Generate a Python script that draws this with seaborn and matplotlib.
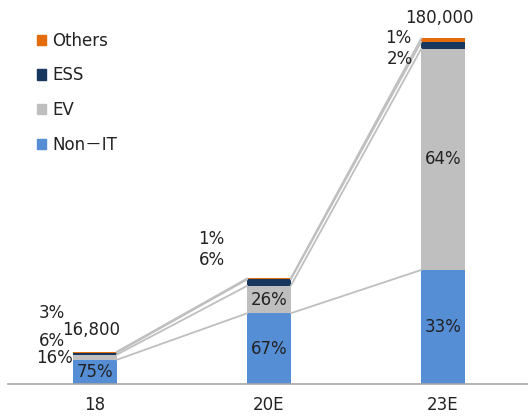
import numpy as np
import pandas as pd
import seaborn as sns
import matplotlib.pyplot as plt
from matplotlib.patches import Patch

years = ["18", "20E", "23E"]
totals = [16800, 55000, 180000]
non_it = [75, 67, 33]
ev = [16, 26, 64]
ess = [6, 6, 2]
others = [3, 1, 1]

series = ["Non－IT", "EV", "ESS", "Others"]
colors = ["#558ED5", "#BFBFBF", "#17375E", "#E46C0A"]

sns.set_style("white")
plt.rcParams["font.family"] = ["DejaVu Sans", "Noto Sans CJK KR"]

pct = np.array([non_it, ev, ess, others], dtype=float)
vals = pct / 100 * np.array(totals)
cum = np.cumsum(vals, axis=0)

fig = plt.figure(figsize=(5.28, 4.18), dpi=100)
ax = fig.add_axes([8 / 528, 34 / 418, 522 / 528, 384 / 418])

w = 0.25
# draw cumulative levels from the top down so each layer covers the one behind
for k in range(3, -1, -1):
    df = pd.DataFrame({"year": years, "value": cum[k]})
    sns.barplot(data=df, x="year", y="value", order=years, color=colors[k],
                width=w, saturation=1, ax=ax, errorbar=None, linewidth=0)

# connecting lines between bars
for i in range(len(years) - 1):
    for k in range(4):
        ax.plot([i + w / 2, i + 1 - w / 2], [cum[k][i], cum[k][i + 1]],
                color="#BFBFBF", lw=1.3, zorder=1)

fs = 12
tc = "#222222"
# labels inside the big segments
for i in range(len(years)):
    for k in range(2):
        if pct[k][i] >= 20 or (k == 0):
            mid = cum[k][i] - vals[k][i] / 2
            ax.text(i, mid, f"{int(pct[k][i])}%", ha="center", va="center",
                    fontsize=fs, color=tc)

# outside labels
ax.text(-0.25, 37000, "3%", ha="center", va="center", fontsize=fs, color=tc)
ax.text(-0.25, 22400, "6%", ha="center", va="center", fontsize=fs, color=tc)
ax.text(-0.13, 13500, "16%", ha="right", va="center", fontsize=fs, color=tc)
ax.text(-0.02, 28100, f"{totals[0]:,}", ha="center", va="center", fontsize=fs, color=tc)

ax.text(0.67, 75500, "1%", ha="center", va="center", fontsize=fs, color=tc)
ax.text(0.67, 64600, "6%", ha="center", va="center", fontsize=fs, color=tc)

ax.text(1.74, 180200, "1%", ha="center", va="center", fontsize=fs, color=tc)
ax.text(1.75, 169300, "2%", ha="center", va="center", fontsize=fs, color=tc)
ax.text(1.98, 190600, f"{totals[2]:,}", ha="center", va="center", fontsize=fs, color=tc)

ax.set_xlim(-0.5, 2.5)
ax.set_ylim(0, 200000)
ax.set_xlabel("")
ax.set_ylabel("")
ax.set_yticks([])
for s in ["top", "right", "left"]:
    ax.spines[s].set_visible(False)
ax.spines["bottom"].set_color("#A6A6A6")
ax.spines["bottom"].set_linewidth(1.2)
ax.tick_params(axis="x", which="major", length=0, pad=9, labelsize=fs, labelcolor=tc)
ax.set_xticks([-0.5, 0.5, 1.5, 2.5], minor=True)
ax.tick_params(axis="x", which="minor", direction="in", length=4, color="#A6A6A6", width=1.2)

handles = [Patch(color=colors[k], label=series[k]) for k in range(3, -1, -1)]
fig.legend(handles=handles, loc="upper left", bbox_to_anchor=(0.058, 0.94),
           frameon=False, fontsize=fs, handlelength=0.55, handleheight=0.55,
           handletextpad=0.35, labelspacing=1.0, borderaxespad=0, labelcolor=tc)

fig.savefig("out.png", dpi=100)
